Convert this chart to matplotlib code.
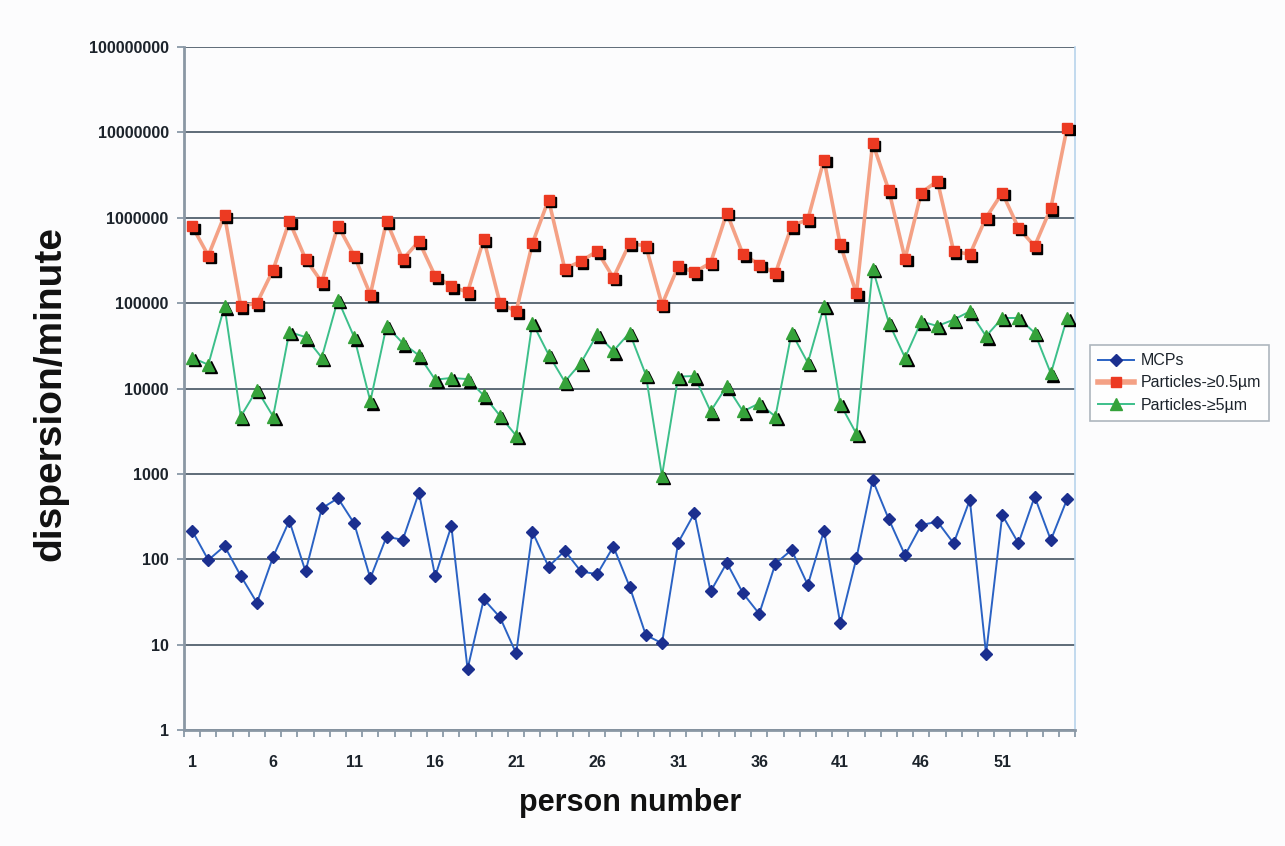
import numpy as np
import matplotlib
matplotlib.use('Agg')
import matplotlib.pyplot as plt
from matplotlib.ticker import FixedLocator, FuncFormatter, MultipleLocator
from matplotlib.transforms import offset_copy

plt.rcParams['font.family'] = ['Liberation Sans', 'DejaVu Sans']

# person number 1..55
persons = np.arange(1, 56)

# MCPs per minute
mcps = [217, 98, 143, 64, 31, 107, 283, 72, 395, 520,
        264, 60, 184, 169, 604, 63, 245, 5.2, 34, 21,
        7.9, 210, 82, 126, 72, 67, 141, 48, 13, 10.4,
        157, 346, 42, 91, 40, 23, 89, 129, 50, 217,
        17.8, 103, 850, 294, 112, 252, 276, 154, 496, 7.8,
        330, 154, 542, 168, 505]

# particles >= 0.5 um per minute
particles_05 = [800000, 360000, 1070000, 92000, 100000, 245000, 910000, 330000, 176000, 810000,
                360000, 126000, 910000, 325000, 530000, 207000, 158000, 134000, 560000, 100000,
                80000, 500000, 1630000, 252000, 310000, 406000, 198000, 500000, 470000, 96000,
                270000, 230000, 296000, 1140000, 372000, 283000, 223000, 800000, 955000, 4800000,
                486000, 130000, 7500000, 2100000, 330000, 1960000, 2700000, 406000, 372000, 1000000,
                1960000, 760000, 465000, 1300000, 11300000]

# particles >= 5 um per minute
particles_5 = [23000, 19000, 92000, 4700, 9700, 4700, 46000, 40000, 23000, 110000,
               40000, 7100, 54000, 34000, 24400, 12700, 13300, 12900, 8300, 4800,
               2800, 59000, 25000, 12000, 20000, 43000, 27500, 45000, 14500, 950,
               13800, 14000, 5400, 10700, 5400, 6700, 4700, 45000, 20000, 93000,
               6600, 2950, 252000, 59000, 23000, 61000, 54000, 64000, 80000, 41000,
               67000, 67000, 45000, 15000, 67000]

y_ticks = [1, 10, 100, 1000, 10000, 100000, 1000000, 10000000, 100000000]
x_labels = [1, 6, 11, 16, 21, 26, 31, 36, 41, 46, 51]

fig = plt.figure(figsize=(12.85, 8.46), dpi=100, facecolor='#fcfcfd')
ax = fig.add_axes([0.1432, 0.137, 0.6935, 0.8075])
ax.set_facecolor('#fcfcfd')

# shadow transform for the particle markers
shadow = offset_copy(ax.transData, fig=fig, x=1.8, y=-1.8, units='points')

# MCPs
ax.plot(persons, mcps, color='#2a62c4', lw=1.4, marker='D', ms=6.5,
        mfc='#1b2f8f', mec='#1b2f8f', label='MCPs', zorder=4)

# particles >= 0.5
ax.plot(persons, particles_05, color='#f4a185', lw=2.6, zorder=3)
ax.plot(persons, particles_05, ls='none', marker='s', ms=7.5, mfc='black', mec='black',
        transform=shadow, zorder=3)
ax.plot(persons, particles_05, ls='none', marker='s', ms=7.5, mfc='#ec3a22', mec='#ec3a22', zorder=3)

# particles >= 5
ax.plot(persons, particles_5, color='#3cbf8a', lw=1.4, zorder=3)
ax.plot(persons, particles_5, ls='none', marker='^', ms=8, mfc='black', mec='black',
        transform=shadow, zorder=3)
ax.plot(persons, particles_5, ls='none', marker='^', ms=8, mfc='#35a23a', mec='#35a23a', zorder=3)

# legend proxies
h1, = ax.plot([], [], color='#2a62c4', lw=1.4, marker='D', ms=6.5, mfc='#1b2f8f', mec='#1b2f8f')
h2, = ax.plot([], [], color='#f4a185', lw=4, marker='s', ms=7.5, mfc='#ec3a22', mec='#ec3a22')
h3, = ax.plot([], [], color='#3cbf8a', lw=1.4, marker='^', ms=8, mfc='#35a23a', mec='#35a23a')

ax.set_yscale('log')
ax.set_ylim(1, 1e8)
ax.set_xlim(0.5, 55.5)
ax.yaxis.set_major_locator(FixedLocator(y_ticks))
ax.yaxis.set_minor_locator(FixedLocator([]))
ax.yaxis.set_major_formatter(FuncFormatter(lambda v, p: '%d' % round(v)))
ax.xaxis.set_major_locator(FixedLocator(x_labels))
ax.xaxis.set_minor_locator(MultipleLocator(1, offset=0.5))

ax.grid(axis='y', which='major', color='#5e6c78', lw=1.4, zorder=1)
ax.tick_params(axis='y', which='major', length=5, width=1.2, color='#8090a0',
               labelsize=11.5, labelcolor='#1c232b', pad=6)
ax.tick_params(axis='x', which='major', length=0, labelsize=11.5, labelcolor='#1c232b', pad=18)
ax.tick_params(axis='x', which='minor', length=5, width=1.2, color='#8090a0')
for lab in ax.get_xticklabels() + ax.get_yticklabels():
    lab.set_fontweight('bold')

for side in ['left', 'bottom']:
    ax.spines[side].set_color('#8a97a4')
    ax.spines[side].set_linewidth(2)
ax.spines['top'].set_visible(False)
ax.spines['right'].set_color('#b8d4ec')
ax.spines['right'].set_linewidth(1.2)

fig.text(0.039, 0.535, 'dispersion/minute', rotation=90, ha='center', va='center',
         fontsize=28, fontweight='bold', color='#111')
fig.text(0.49, 0.051, 'person number', ha='center', va='center',
         fontsize=22, fontweight='bold', color='#111')

leg = fig.legend([h1, h2, h3], ['MCPs', 'Particles-≥0.5µm', 'Particles-≥5µm'],
                 loc='upper left', bbox_to_anchor=(0.848, 0.592), bbox_transform=fig.transFigure,
                 borderaxespad=0, fontsize=11.5, fancybox=False, handlelength=2.3,
                 labelspacing=0.45, borderpad=0.5, handletextpad=0.4)
leg.get_frame().set_edgecolor('#9aa4ae')
leg.get_frame().set_linewidth(1.2)
for t in leg.get_texts():
    t.set_color('#1c232b')

fig.savefig('out.png', dpi=100, facecolor=fig.get_facecolor())
